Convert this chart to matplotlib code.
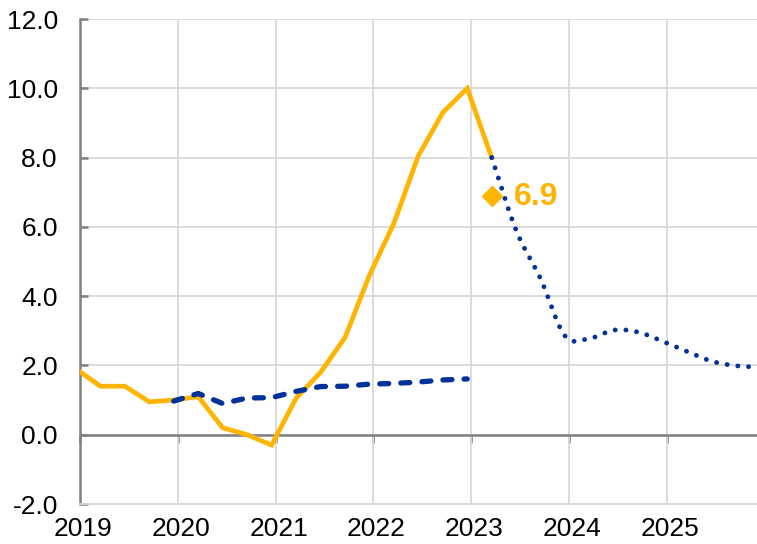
import numpy as np
import matplotlib.pyplot as plt
from matplotlib.transforms import ScaledTranslation

# quarterly observations, plotted late in the last month of each quarter
hicp_quarters = ["2018Q4", "2019Q1", "2019Q2", "2019Q3", "2019Q4",
                 "2020Q1", "2020Q2", "2020Q3", "2020Q4",
                 "2021Q1", "2021Q2", "2021Q3", "2021Q4",
                 "2022Q1", "2022Q2", "2022Q3", "2022Q4", "2023Q1"]
hicp = [1.9, 1.4, 1.4, 0.95, 1.0, 1.1, 0.2, 0.0, -0.3,
        1.05, 1.8, 2.8, 4.6, 6.1, 8.05, 9.3, 10.0, 8.0]

dashed_quarters = ["2019Q4", "2020Q1", "2020Q2", "2020Q3", "2020Q4",
                   "2021Q1", "2021Q2", "2021Q3", "2021Q4",
                   "2022Q1", "2022Q2", "2022Q3", "2022Q4"]
dashed = [0.97, 1.19, 0.9, 1.06, 1.07, 1.25, 1.39, 1.4, 1.46,
          1.48, 1.52, 1.58, 1.61]

proj_quarters = ["2023Q1", "2023Q2", "2023Q3", "2023Q4",
                 "2024Q1", "2024Q2", "2024Q3", "2024Q4",
                 "2025Q1", "2025Q2", "2025Q3", "2025Q4"]
proj = [8.0, 5.9, 4.5, 2.85, 2.78, 3.02, 2.96, 2.69, 2.4, 2.12, 1.99, 1.95]

marker_quarter = "2023Q1"
marker_value = 6.9

year_ticks = [2019, 2020, 2021, 2022, 2023, 2024, 2025]
y_ticks = [-2, 0, 2, 4, 6, 8, 10, 12]

YELLOW = "#FFB400"
BLUE = "#003299"
GRID = "#D9D9D9"
AXIS = "#808080"
FONT = ["Liberation Sans", "DejaVu Sans"]


def qpos(q):
    year, n = int(q[:4]), int(q[-1])
    return year + (3 * n - 0.5) / 12.0


def smooth(x, y, n=24):
    # Catmull-Rom curve through the points, like a spreadsheet "smoothed line"
    x = np.asarray(x, float)
    y = np.asarray(y, float)
    px = np.concatenate([[2 * x[0] - x[1]], x, [2 * x[-1] - x[-2]]])
    py = np.concatenate([[2 * y[0] - y[1]], y, [2 * y[-1] - y[-2]]])
    xs, ys = [], []
    t = np.linspace(0, 1, n, endpoint=False)
    for i in range(1, len(px) - 2):
        for p, out in ((px, xs), (py, ys)):
            p0, p1, p2, p3 = p[i - 1], p[i], p[i + 1], p[i + 2]
            out.extend(0.5 * ((2 * p1) + (-p0 + p2) * t
                              + (2 * p0 - 5 * p1 + 4 * p2 - p3) * t ** 2
                              + (-p0 + 3 * p1 - 3 * p2 + p3) * t ** 3))
    xs.append(x[-1])
    ys.append(y[-1])
    return np.array(xs), np.array(ys)


fig = plt.figure(figsize=(7.57, 5.44), dpi=100)
ax = fig.add_axes([80 / 757, 1 - 504 / 544, 677 / 757, 485 / 544])

ax.set_xlim(2019, 2019 + 677 / 97.83)
ax.set_ylim(-2, 12)

ax.set_xticks(year_ticks)
ax.set_yticks(y_ticks)
ax.set_yticklabels([f"{v:.1f}" for v in y_ticks])
ax.grid(True, color=GRID, lw=1.3, zorder=0)
ax.set_axisbelow(True)

for s in ["top", "right"]:
    ax.spines[s].set_visible(False)
ax.spines["bottom"].set_color(GRID)
ax.spines["bottom"].set_linewidth(1.3)
ax.spines["left"].set_color(AXIS)
ax.spines["left"].set_linewidth(1.8)

ax.tick_params(axis="y", direction="in", length=6, width=1.8, color=AXIS,
               pad=16, labelsize=19)
ax.tick_params(axis="x", length=0, pad=9, labelsize=19)
shift = ScaledTranslation(3 / 100, 0, fig.dpi_scale_trans)
for lab in ax.get_xticklabels():
    lab.set_transform(lab.get_transform() + shift)
for lab in ax.get_xticklabels() + ax.get_yticklabels():
    lab.set_family(FONT)

# zero line with downward year ticks
ax.axhline(0, color=AXIS, lw=1.8, zorder=1)
sec = ax.secondary_xaxis(2 / 14)
sec.set_xticks(year_ticks)
sec.tick_params(direction="out", length=6, width=1.8, color=AXIS,
                labelbottom=False)
sec.spines["bottom"].set_visible(False)

ax.plot([qpos(q) for q in hicp_quarters], hicp, color=YELLOW, lw=3.4,
        solid_joinstyle="miter", zorder=3)
ax.plot([qpos(q) for q in dashed_quarters], dashed, color=BLUE, lw=3.8,
        linestyle=(0, (1.7, 2.3)), dash_capstyle="round", zorder=4)
sx, sy = smooth([qpos(q) for q in proj_quarters], proj)
ax.plot(sx, sy, color=BLUE, lw=3.5, linestyle=(0, (0.01, 2.2)),
        dash_capstyle="round", zorder=4)

ax.plot([qpos(marker_quarter)], [marker_value], marker="D", ms=10,
        color=YELLOW, zorder=5, clip_on=False)
ax.annotate(f"{marker_value:.1f}", (qpos(marker_quarter), marker_value),
            xytext=(16, -1), textcoords="offset points", va="center",
            ha="left", fontsize=23, fontweight="bold", color=YELLOW,
            family=FONT)

fig.savefig("out.png", dpi=100)
